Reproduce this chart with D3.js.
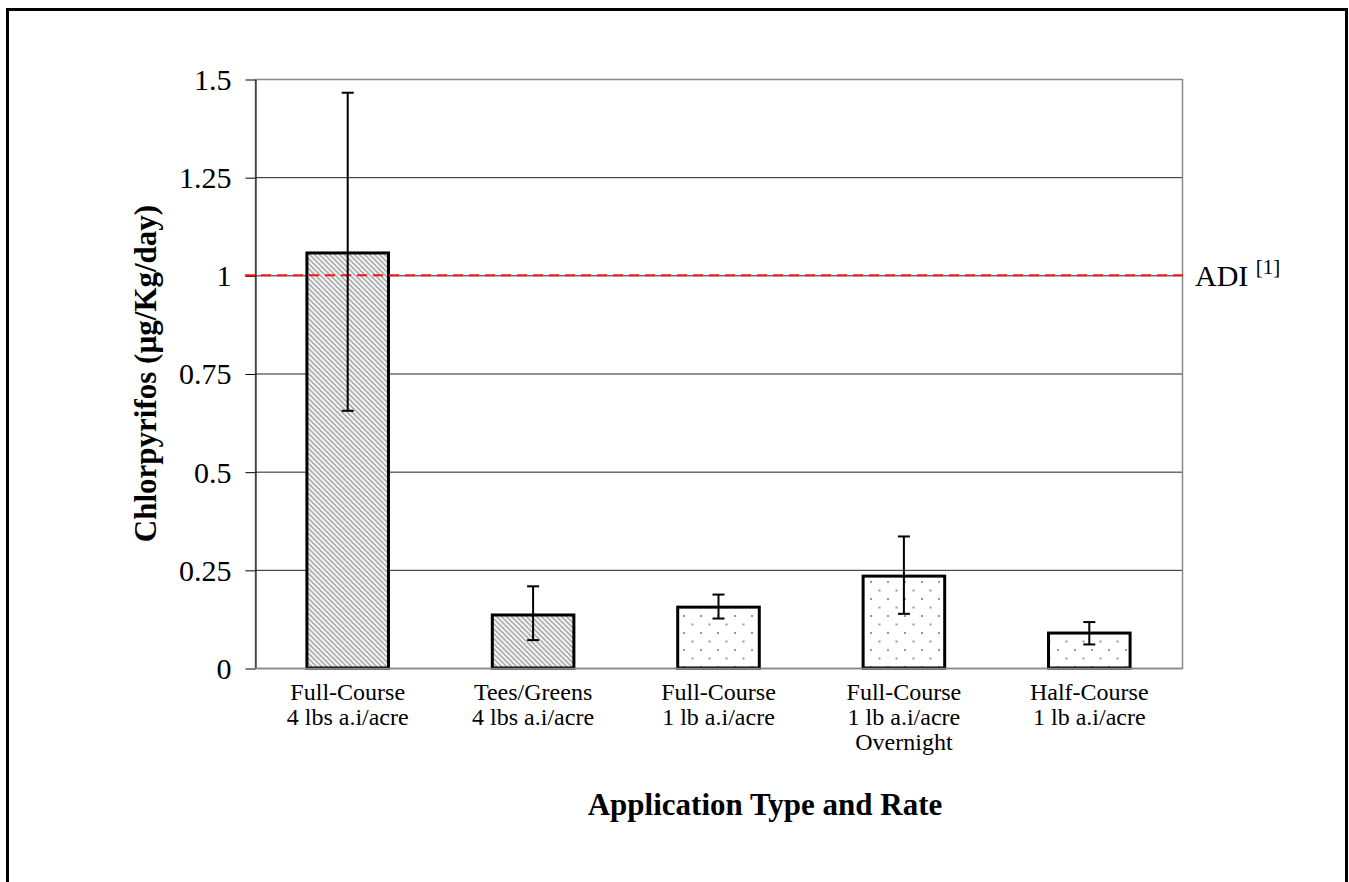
<!DOCTYPE html>
<html><head><meta charset="utf-8">
<script src="https://cdn.jsdelivr.net/npm/d3@7"></script>
<style>body{margin:0;background:#fff}svg{display:block}</style>
</head><body>
<script>
const categories = [["Full-Course","4 lbs a.i/acre"],["Tees/Greens","4 lbs a.i/acre"],["Full-Course","1 lb a.i/acre"],["Full-Course","1 lb a.i/acre","Overnight"],["Half-Course","1 lb a.i/acre"]];
const values = [1.057, 0.135, 0.155, 0.234, 0.089];
const errHigh = [1.465, 0.208, 0.187, 0.335, 0.117];
const errLow = [0.655, 0.071, 0.126, 0.138, 0.060];
const patterns = ["hatch","hatch","dots","dots","dots"];
const yTicks = [0, 0.25, 0.5, 0.75, 1, 1.25, 1.5];
const yTickLabels = ["0","0.25","0.5","0.75","1","1.25","1.5"];
const adiValue = 1;

const FONT = "'Liberation Serif', 'Times New Roman', serif";
const W = 1349, H = 882;
const svg = d3.select("body").append("svg").attr("width", W).attr("height", H);
const defs = svg.append("defs");
const ph = defs.append("pattern").attr("id","hatch").attr("patternUnits","userSpaceOnUse").attr("width",5).attr("height",5);
ph.append("rect").attr("width",5).attr("height",5).attr("fill","#fff");
ph.append("path").attr("d","M-1,-1 L6,6 M-1,4 L1,6 M4,-1 L6,1").attr("stroke","#b4b4b4").attr("stroke-width",2);
const pd = defs.append("pattern").attr("id","dots").attr("patternUnits","userSpaceOnUse").attr("width",17).attr("height",17).attr("x",0).attr("y",0);
pd.append("rect").attr("width",17).attr("height",17).attr("fill","#fff");
pd.append("rect").attr("x",3).attr("y",3).attr("width",2).attr("height",2).attr("fill","#999");
pd.append("rect").attr("x",11.5).attr("y",11.5).attr("width",2).attr("height",2).attr("fill","#999");

// outer frame
svg.append("rect").attr("x",7.5).attr("y",9.5).attr("width",1339).attr("height",900).attr("fill","none").attr("stroke","#000").attr("stroke-width",3);

const L = 255, R = 1182, T = 79, B = 668;
const x = d3.scaleBand().domain(d3.range(categories.length)).range([L, R]).paddingInner(0.56).paddingOuter(0.28);
const y = d3.scaleLinear().domain([0, 1.5]).range([B, T]);

// gridlines
svg.append("g").selectAll("line").data(yTicks.filter(t=>t>0)).join("line")
  .attr("x1",L).attr("x2",R).attr("y1",d=>y(d)+0.5).attr("y2",d=>y(d)+0.5)
  .attr("stroke","#222").attr("stroke-width",1);
// plot border
svg.append("rect").attr("x",L+0.5).attr("y",T+0.5).attr("width",R-L).attr("height",B-T)
  .attr("fill","none").attr("stroke","#888").attr("stroke-width",1.5);

// y axis
const yAxis = d3.axisLeft(y).tickValues(yTicks).tickFormat((d,i)=>yTickLabels[i]).tickSize(10).tickSizeOuter(0);
const ga = svg.append("g").attr("transform",`translate(${L+0.5},0.5)`).call(yAxis);
ga.select(".domain").attr("stroke","#000");
ga.selectAll(".tick line").attr("stroke","#000");
ga.selectAll(".tick text").attr("font-family",FONT).attr("font-size",30).attr("fill","#000").attr("x",-24).attr("dy","0.33em");

// bars
svg.append("g").selectAll("rect").data(values).join("rect")
  .attr("x",(d,i)=>x(i)).attr("y",d=>y(d)).attr("width",x.bandwidth()).attr("height",d=>B-y(d))
  .attr("fill",(d,i)=>`url(#${patterns[i]})`).attr("stroke","#000").attr("stroke-width",3);

// bottom axis line
svg.append("line").attr("x1",L).attr("x2",R).attr("y1",B+0.5).attr("y2",B+0.5).attr("stroke","#888").attr("stroke-width",1.5);

// ADI line
svg.append("line").attr("x1",L-10).attr("x2",R+5).attr("y1",y(adiValue)).attr("y2",y(adiValue))
  .attr("stroke","#ff1010").attr("stroke-width",2).attr("stroke-dasharray","10,6");
const adi = svg.append("text").attr("x",R+13).attr("y",y(adiValue)+11).attr("font-family",FONT).attr("font-size",30).attr("fill","#000");
adi.append("tspan").text("ADI ");
adi.append("tspan").attr("font-size",21).attr("dy",-12).text("[1]");

// error bars
const eg = svg.append("g").attr("stroke","#000").attr("stroke-width",2);
values.forEach((v,i)=>{
  const cx = x(i)+x.bandwidth()/2;
  eg.append("line").attr("x1",cx).attr("x2",cx).attr("y1",y(errHigh[i])).attr("y2",y(errLow[i]));
  eg.append("line").attr("x1",cx-6).attr("x2",cx+6).attr("y1",y(errHigh[i])).attr("y2",y(errHigh[i]));
  eg.append("line").attr("x1",cx-6).attr("x2",cx+6).attr("y1",y(errLow[i])).attr("y2",y(errLow[i]));
});

// category labels
categories.forEach((lines,i)=>{
  const cx = x(i)+x.bandwidth()/2;
  const t = svg.append("text").attr("text-anchor","middle").attr("font-family",FONT).attr("font-size",24).attr("fill","#000");
  lines.forEach((s,j)=>t.append("tspan").attr("x",cx).attr("y",700+j*25).text(s));
});

// axis titles
svg.append("text").attr("x",765).attr("y",815).attr("text-anchor","middle")
  .attr("font-family",FONT).attr("font-weight","bold").attr("font-size",31).text("Application Type and Rate");
svg.append("text").attr("transform",`translate(156,${(T+B)/2}) rotate(-90)`).attr("text-anchor","middle")
  .attr("font-family",FONT).attr("font-weight","bold").attr("font-size",31).text("Chlorpyrifos (µg/Kg/day)");
</script>
</body></html>
